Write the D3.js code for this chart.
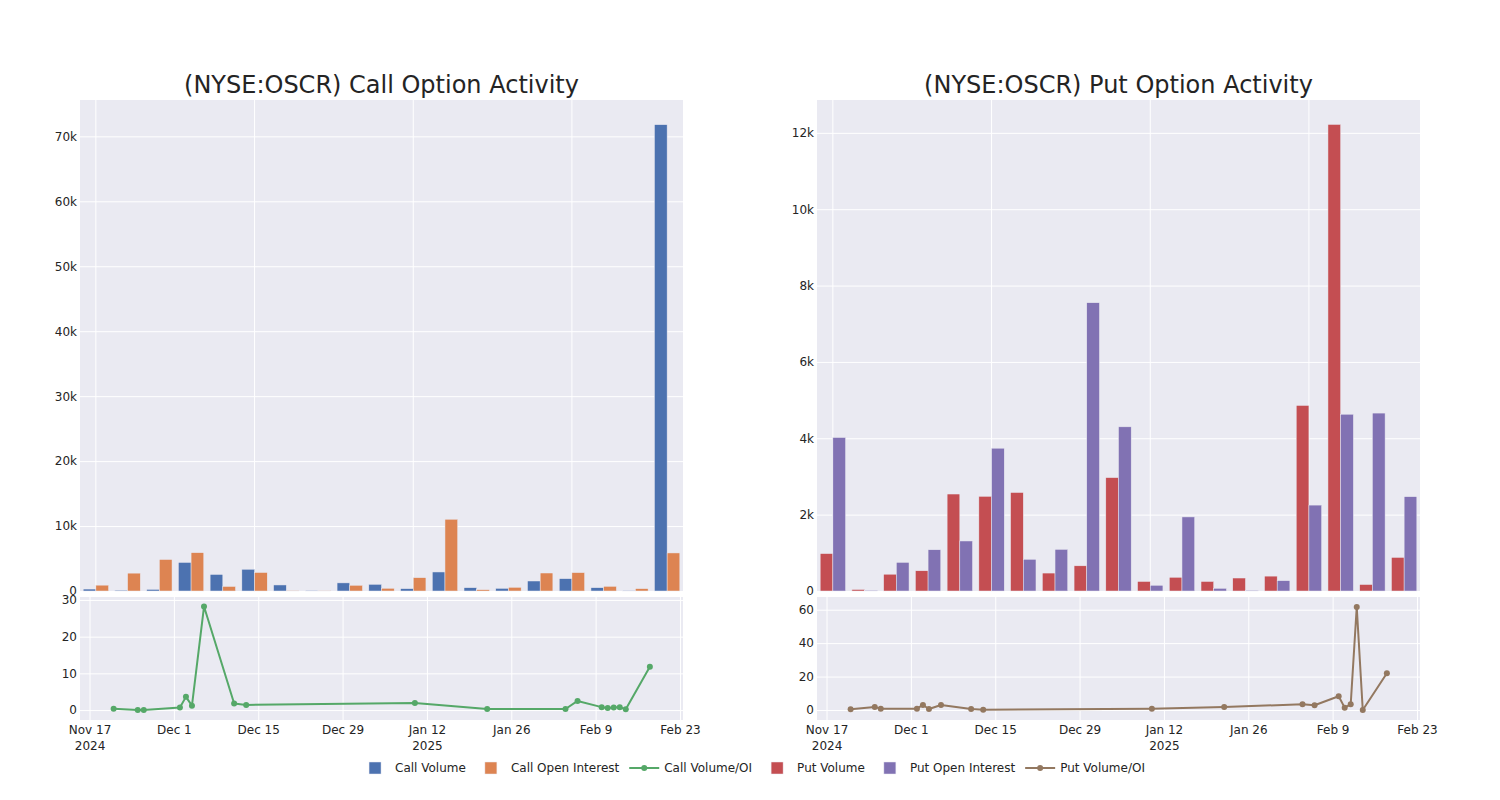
<!DOCTYPE html>
<html><head><meta charset="utf-8">
<script src="https://cdn.jsdelivr.net/npm/d3@7"></script>
<style>
body{margin:0;background:#fff}
text{font-family:"DejaVu Sans",Verdana,sans-serif;fill:rgb(36,36,36)}
</style>
</head><body>
<svg id="chart" width="1500" height="800"></svg>
<script>
// ---- data ----
const dates = ["2024-11-21","2024-11-25","2024-11-26","2024-12-02","2024-12-03","2024-12-04","2024-12-06","2024-12-11","2024-12-13","2025-01-10","2025-01-22","2025-02-04","2025-02-06","2025-02-10","2025-02-11","2025-02-12","2025-02-13","2025-02-14","2025-02-18"];
const callVolume = [300,130,250,4400,2550,3350,930,90,1250,1030,360,2930,510,410,1540,1900,510,70,71800];
const callOpenInterest = [900,2750,4850,5900,700,2850,33,50,880,420,2050,11050,200,570,2770,2830,720,360,5860];
const callVolOI = [0.35,0.05,0.05,0.7,3.6,1.2,28.2,1.8,1.4,1.9,0.3,0.3,2.5,0.8,0.6,0.7,0.8,0.2,11.8];
const putVolume = [980,40,440,530,2540,2480,2580,470,660,2970,250,360,250,340,390,4860,12220,170,880];
const putOpenInterest = [4020,20,750,1080,1310,3740,830,1090,7550,4300,150,1940,70,20,270,2250,4630,4660,2470];
const putVolOI = [0.4,1.8,0.8,0.8,3.0,0.6,3.0,0.6,0.2,0.8,1.8,3.4,2.8,8.2,1.4,3.4,61.6,0.0,22.0];

const callTopTicks = [0,10000,20000,30000,40000,50000,60000,70000];
const putTopTicks = [0,2000,4000,6000,8000,10000,12000];
const callBottomTicks = [0,10,20,30];
const putBottomTicks = [0,20,40,60];
const dateTicks = ["2024-11-17","2024-12-01","2024-12-15","2024-12-29","2025-01-12","2025-01-26","2025-02-09","2025-02-23"];
const dateTickLabels = [["Nov 17","2024"],["Dec 1"],["Dec 15"],["Dec 29"],["Jan 12","2025"],["Jan 26"],["Feb 9"],["Feb 23"]];
const legendNames = ["Call Volume","Call Open Interest","Call Volume/OI","Put Volume","Put Open Interest","Put Volume/OI"];

// ---- style ----
const C = {blue:"rgb(76,114,176)",orange:"rgb(221,132,82)",green:"rgb(85,168,104)",
  red:"rgb(196,78,82)",purple:"rgb(129,114,179)",brown:"rgb(147,120,96)",bg:"rgb(234,234,242)"};
const parse = d3.utcParse("%Y-%m-%d");
const svg = d3.select("#chart");
const TOP = {y0:100, y1:591}, BOT = {y0:597, y1:720};

const panels = [
  {x0:80, x1:683, title:"(NYSE:OSCR) Call Option Activity", a:callVolume, b:callOpenInterest,
   ca:C.blue, cb:C.orange, line:callVolOI, cl:C.green, topMax:75600, topTicks:callTopTicks,
   botDom:[-2.7,30.8], botTicks:callBottomTicks},
  {x0:817, x1:1420, title:"(NYSE:OSCR) Put Option Activity", a:putVolume, b:putOpenInterest,
   ca:C.red, cb:C.purple, line:putVolOI, cl:C.brown, topMax:12860, topTicks:putTopTicks,
   botDom:[-6.0,67.6], botTicks:putBottomTicks}
];

const fmtK = v => v === 0 ? "0" : (v/1000) + "k";

panels.forEach(p => {
  const g = svg.append("g");
  const w = p.x1 - p.x0;
  // backgrounds
  g.append("rect").attr("x",p.x0).attr("y",TOP.y0).attr("width",w).attr("height",TOP.y1-TOP.y0).attr("fill",C.bg);
  g.append("rect").attr("x",p.x0).attr("y",BOT.y0).attr("width",w).attr("height",BOT.y1-BOT.y0).attr("fill",C.bg);

  // top scales
  const xb = d3.scaleBand().domain(dates).range([p.x0,p.x1]).paddingInner(0.2).paddingOuter(0.1);
  const xs = d3.scaleBand().domain([0,1]).range([0,xb.bandwidth()]);
  const yt = d3.scaleLinear().domain([0,p.topMax]).range([TOP.y1,TOP.y0]);

  // top x grid (category)
  const gx = g.append("g").attr("transform",`translate(0,${TOP.y1})`)
    .call(d3.axisBottom(xb).tickValues([dates[0],dates[5],dates[10],dates[15]]).tickSize(-(TOP.y1-TOP.y0)).tickFormat(""));
  gx.select(".domain").remove();
  gx.selectAll("line").attr("stroke","#fff").attr("stroke-width",1);

  // top y axis
  const gy = g.append("g").attr("transform",`translate(${p.x0},0)`)
    .call(d3.axisLeft(yt).tickValues(p.topTicks).tickFormat(fmtK).tickSize(-w).tickPadding(3));
  gy.select(".domain").remove();
  gy.selectAll("line").attr("stroke","#fff").attr("stroke-width",1);
  gy.selectAll("text").attr("font-size",12).attr("fill","rgb(36,36,36)").style("font-family","'DejaVu Sans'");
  gy.selectAll(".tick").filter(d=>d===0).select("text").attr("dy","0.25em");

  // bars
  [[p.a,p.ca,0],[p.b,p.cb,1]].forEach(([arr,col,k]) => {
    g.append("g").selectAll("rect").data(arr).join("rect")
      .attr("x",(d,i)=>xb(dates[i])+xs(k))
      .attr("width",xs.bandwidth())
      .attr("y",d=>yt(d))
      .attr("height",d=>yt(0)-yt(d))
      .attr("fill",col).attr("stroke",C.bg).attr("stroke-width",0.5);
  });

  // bottom scales
  const xt = d3.scaleUtc().domain([new Date(Date.UTC(2024,10,15,10)), new Date(Date.UTC(2025,1,23,12))]).range([p.x0,p.x1]);
  const yb = d3.scaleLinear().domain(p.botDom).range([BOT.y1,BOT.y0]);

  const gbx = g.append("g").attr("transform",`translate(0,${BOT.y1})`)
    .call(d3.axisBottom(xt).tickValues(dateTicks.map(parse)).tickSize(-(BOT.y1-BOT.y0)).tickPadding(4).tickFormat(""));
  gbx.select(".domain").remove();
  gbx.selectAll("line").attr("stroke","#fff").attr("stroke-width",1);
  gbx.selectAll(".tick").each(function(d,i){
    const t = d3.select(this).select("text").attr("font-size",12).attr("text-anchor","middle")
      .attr("y",0).attr("dy",null).style("font-family","'DejaVu Sans'");
    dateTickLabels[i].forEach((s,j)=>{
      t.append("tspan").attr("x",0).attr("y",13.5 + j*16).text(s);
    });
  });

  const gby = g.append("g").attr("transform",`translate(${p.x0},0)`)
    .call(d3.axisLeft(yb).tickValues(p.botTicks).tickSize(-w).tickPadding(3));
  gby.select(".domain").remove();
  gby.selectAll("line").attr("stroke","#fff").attr("stroke-width",1);
  gby.selectAll("text").attr("font-size",12).style("font-family","'DejaVu Sans'");

  // line + markers
  const pts = p.line.map((v,i)=>[xt(parse(dates[i])), yb(v)]);
  g.append("path").attr("d",d3.line()(pts)).attr("fill","none").attr("stroke",p.cl).attr("stroke-width",2).attr("stroke-linejoin","round");
  g.append("g").selectAll("circle").data(pts).join("circle")
    .attr("cx",d=>d[0]).attr("cy",d=>d[1]).attr("r",3).attr("fill",p.cl);

  // title
  g.append("text").attr("x",(p.x0+p.x1)/2).attr("y",93).attr("text-anchor","middle")
    .attr("font-size",24).text(p.title);
});

// ---- legend ----
const legendColors = [C.blue,C.orange,C.green,C.red,C.purple,C.brown];
const legendKinds = ["bar","bar","line","bar","bar","line"];
const lg = svg.append("g");
let cx = 0;
const items = legendNames.map((name,i)=>{
  const it = lg.append("g");
  const tx = it.append("text").attr("x",40).attr("y",768).attr("dy","0.35em").attr("font-size",12).text(name);
  const tw = tx.node().getComputedTextLength();
  if (legendKinds[i]==="bar") {
    it.append("rect").attr("x",14).attr("y",762).attr("width",12).attr("height",12)
      .attr("fill",legendColors[i]).attr("stroke",C.bg).attr("stroke-width",0.5);
  } else {
    it.append("line").attr("x1",5).attr("x2",35).attr("y1",768).attr("y2",768).attr("stroke",legendColors[i]).attr("stroke-width",2);
    it.append("circle").attr("cx",20).attr("cy",768).attr("r",3).attr("fill",legendColors[i]);
  }
  const wdt = 40 + tw + 5;
  const res = {it, x:cx};
  cx += wdt;
  return res;
});
const total = cx - 5;
const start = 750 - total/2;
items.forEach(d=>d.it.attr("transform",`translate(${start + d.x},0)`));
</script>
</body></html>
